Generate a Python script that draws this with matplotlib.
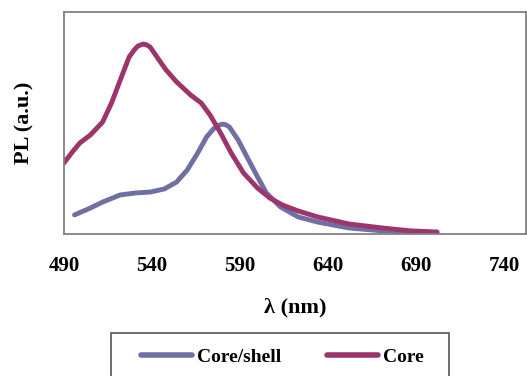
import matplotlib
matplotlib.use("Agg")
import matplotlib.pyplot as plt
from matplotlib.patches import Rectangle

# PL spectra (normalised intensity, arbitrary units)
core_wl = [490, 495, 499, 505, 512, 517, 522, 527, 530, 532, 535, 537, 539,
           544, 548, 554, 562, 568, 573, 579, 585, 592, 600, 607, 614, 623,
           634, 652, 671, 687, 702]
core_pl = [0.320, 0.372, 0.410, 0.446, 0.505, 0.590, 0.694, 0.797, 0.830,
           0.847, 0.856, 0.852, 0.842, 0.784, 0.739, 0.685, 0.626, 0.590,
           0.536, 0.455, 0.365, 0.275, 0.207, 0.162, 0.131, 0.104, 0.077,
           0.045, 0.027, 0.014, 0.009]

shell_wl = [496, 505, 512, 522, 531, 539, 547, 554, 560, 566, 571, 575, 578,
            580, 582, 584, 589, 594, 600, 605, 613, 623, 634, 652, 671, 702]
shell_pl = [0.086, 0.117, 0.144, 0.176, 0.185, 0.189, 0.203, 0.234, 0.288,
            0.365, 0.437, 0.474, 0.490, 0.495, 0.492, 0.482, 0.423, 0.347,
            0.257, 0.185, 0.122, 0.077, 0.054, 0.027, 0.014, 0.005]

x_ticks = [490, 540, 590, 640, 690, 740]

SHELL_COLOR = "#6f6fa3"
CORE_COLOR = "#9c356b"

plt.rcParams["font.family"] = ["Liberation Serif", "DejaVu Serif"]
plt.rcParams["font.weight"] = "bold"

fig = plt.figure(figsize=(5.27, 3.76), dpi=100)
ax = fig.add_axes([0.1214, 0.3777, 0.8766, 0.5903])

line_kw = dict(lw=3.5, solid_capstyle="round", solid_joinstyle="round")
ax.plot(shell_wl, shell_pl, color=SHELL_COLOR, label="Core/shell", **line_kw)
ax.plot(core_wl, core_pl, color=CORE_COLOR, label="Core", **line_kw)

ax.set_xlim(490, 752.5)
ax.set_ylim(0, 1)
ax.set_xticks(x_ticks)
ax.set_xticklabels([str(t) for t in x_ticks], fontsize=15, fontweight="bold")
ax.set_yticks([])
ax.tick_params(axis="x", length=0, pad=16)

for sp in ax.spines.values():
    sp.set_color("#808080")
    sp.set_linewidth(1.3)

ax.set_xlabel("λ (nm)", fontsize=16, fontweight="bold", labelpad=15)
ax.set_ylabel("PL (a.u.)", fontsize=16, fontweight="bold", labelpad=21)

# legend box runs off the bottom edge of the figure
frame = Rectangle((111 / 527, -0.02), (449 - 111) / 527, (376 - 333) / 376 + 0.02,
                  transform=fig.transFigure, fill=False, edgecolor="#555555",
                  linewidth=1.2)
fig.patches.append(frame)

leg = fig.legend(loc="center left", bbox_to_anchor=(131 / 527, 1 - 357 / 376),
                 ncol=2, frameon=False, handlelength=2.62,
                 handletextpad=0.28, columnspacing=2.34, borderpad=0,
                 prop={"weight": "bold", "size": 14})
for line in leg.get_lines():
    line.set_linewidth(4)

fig.savefig("out.png", dpi=100)
